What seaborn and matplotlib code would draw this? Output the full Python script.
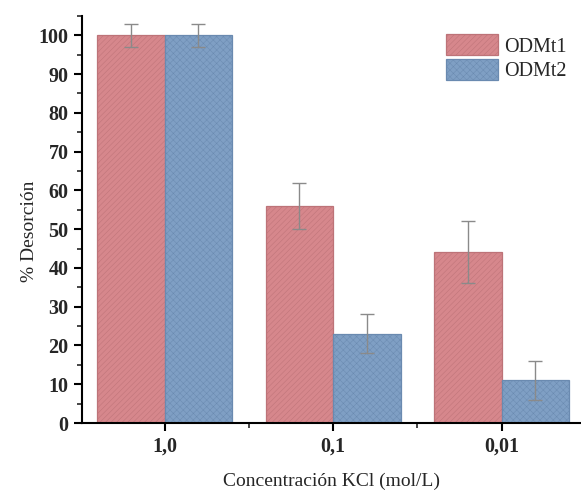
import numpy as np
import pandas as pd
import matplotlib
matplotlib.use('Agg')
import matplotlib.pyplot as plt
import seaborn as sns
from matplotlib.ticker import MultipleLocator, FixedLocator

concentrations = ['1,0', '0,1', '0,01']
samples = ['ODMt1', 'ODMt2']
odmt1_values = [100, 56, 44]
odmt2_values = [100, 23, 11]
odmt1_errors = [3, 6, 8]
odmt2_errors = [3, 5, 5]

colors = {'ODMt1': '#d6878c', 'ODMt2': '#7f9fc4'}
edges = {'ODMt1': '#bd7378', 'ODMt2': '#6a8ab0'}
hatches = {'ODMt1': '//////', 'ODMt2': 'xxxxx'}

df = pd.DataFrame({
    'conc': concentrations * 2,
    'sample': ['ODMt1'] * 3 + ['ODMt2'] * 3,
    'value': odmt1_values + odmt2_values,
})
errors = {'ODMt1': odmt1_errors, 'ODMt2': odmt2_errors}

sns.set_style('ticks')
plt.rcParams['font.family'] = ['Liberation Serif', 'DejaVu Serif']
plt.rcParams['hatch.linewidth'] = 0.35

fig = plt.figure(figsize=(5.81, 4.94), dpi=100)
ax = fig.add_axes([0.141, 0.1437, 0.859, 0.824])

sns.barplot(data=df, x='conc', y='value', hue='sample', order=concentrations,
            hue_order=samples, palette=colors, width=0.8, errorbar=None,
            saturation=1, ax=ax, legend=False)

for name, cont in zip(samples, ax.containers):
    xs = [p.get_x() + p.get_width() / 2 for p in cont.patches]
    hs = [p.get_height() for p in cont.patches]
    for p in cont.patches:
        p.set_edgecolor(edges[name])
        p.set_hatch(hatches[name])
        p.set_linewidth(0.9)
    ax.errorbar(xs, hs, yerr=errors[name], fmt='none', ecolor='#8a8a8a',
                elinewidth=1, capsize=5, capthick=1)

handles = [plt.Rectangle((0, 0), 1, 1, facecolor=colors[s], edgecolor=edges[s],
                         hatch=hatches[s], linewidth=0.9) for s in samples]
ax.legend(handles, samples, loc='upper right', bbox_to_anchor=(1.0, 0.99),
          frameon=False, fontsize=14.5, handlelength=2.6, handleheight=1.25,
          labelspacing=0.12, handletextpad=0.3, borderaxespad=0.3)

ax.set_xlim(-0.49, 2.47)
ax.set_ylim(0, 105)
ax.yaxis.set_major_locator(MultipleLocator(10))
ax.yaxis.set_minor_locator(MultipleLocator(5))
ax.xaxis.set_minor_locator(FixedLocator([0.5, 1.5]))
ax.tick_params(axis='both', which='major', direction='out', length=6, width=1.5,
               labelsize=14.5, color='black')
ax.tick_params(axis='both', which='minor', direction='out', length=3.5, width=1.2)
for lab in ax.get_xticklabels() + ax.get_yticklabels():
    lab.set_fontweight('bold')

sns.despine(ax=ax)
for side in ['left', 'bottom']:
    ax.spines[side].set_linewidth(1.5)
    ax.spines[side].set_color('black')

ax.set_xlabel('Concentración KCl (mol/L)', fontsize=14, labelpad=12)
ax.set_ylabel('% Desorción', fontsize=14)
ax.yaxis.set_label_coords(-0.088, 0.47)

fig.savefig('out.png', dpi=100)
